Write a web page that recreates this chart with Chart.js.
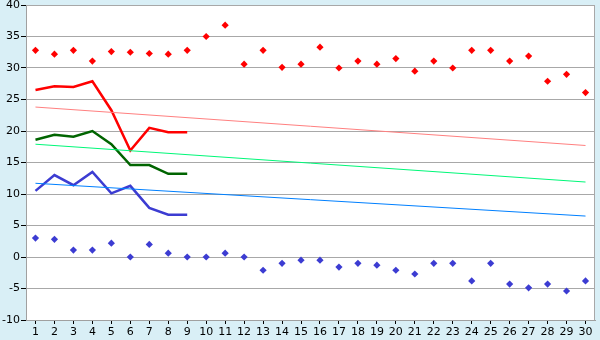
<!DOCTYPE html>
<html>
<head>
<meta charset="utf-8">
<script src="https://cdn.jsdelivr.net/npm/chart.js@4/dist/chart.umd.min.js"></script>
<style>
  html, body { margin: 0; padding: 0; background: #d9eff6; }
  #wrap { width: 600px; height: 340px; }
</style>
</head>
<body>
<div id="wrap"><canvas id="c" width="600" height="340"></canvas></div>
<script>
const categories = ["1","2","3","4","5","6","7","8","9","10","11","12","13","14","15","16","17","18","19","20","21","22","23","24","25","26","27","28","29","30"];

const highPoints = [32.8,32.2,32.8,31.1,32.6,32.5,32.3,32.2,32.8,35.0,36.8,30.6,32.8,30.1,30.6,33.3,30.0,31.1,30.6,31.5,29.5,31.1,30.0,32.8,32.8,31.1,31.9,27.9,29.0,26.1];
const lowPoints = [3.0,2.8,1.1,1.1,2.2,0.0,2.0,0.6,0.0,0.0,0.6,0.0,-2.1,-1.0,-0.5,-0.5,-1.6,-1.0,-1.3,-2.1,-2.7,-1.0,-1.0,-3.8,-1.0,-4.3,-4.9,-4.3,-5.4,-3.8];

const redLine = [26.5,27.1,27.0,27.9,23.3,16.9,20.5,19.8,19.8];
const greenLine = [18.6,19.4,19.1,20.0,17.9,14.6,14.6,13.2,13.2];
const blueLine = [10.5,13.0,11.4,13.5,10.1,11.3,7.8,6.7,6.7];

// trend line end points (first and last category)
const redTrend = [23.8, 17.7];
const greenTrend = [17.9, 11.9];
const blueTrend = [11.7, 6.5];

const yTicks = [-10,-5,0,5,10,15,20,25,30,35,40];

function endpoints(pair) {
  const arr = categories.map(() => null);
  arr[0] = pair[0];
  arr[arr.length - 1] = pair[1];
  return arr;
}

const bgPlugin = {
  id: 'bg',
  beforeDraw(chart) {
    const ctx = chart.ctx, a = chart.chartArea;
    ctx.save();
    ctx.fillStyle = '#d9eff6';
    ctx.fillRect(0, 0, chart.width, chart.height);
    ctx.fillStyle = '#ffffff';
    ctx.fillRect(a.left, a.top, a.right - a.left, a.bottom - a.top);
    ctx.restore();
  },
  afterDraw(chart) {
    const ctx = chart.ctx, a = chart.chartArea;
    ctx.save();
    ctx.strokeStyle = '#a8a8a8';
    ctx.lineWidth = 1;
    ctx.beginPath();
    ctx.moveTo(a.left, a.top + 0.5);
    ctx.lineTo(a.right - 0.5, a.top + 0.5);
    ctx.lineTo(a.right - 0.5, a.bottom);
    ctx.stroke();
    ctx.restore();
  }
};

new Chart(document.getElementById('c'), {
  type: 'line',
  data: {
    labels: categories,
    datasets: [
      { data: endpoints(redTrend), borderColor: '#ff8080', borderWidth: 1, pointRadius: 0, spanGaps: true, fill: false },
      { data: endpoints(greenTrend), borderColor: '#00f878', borderWidth: 1, pointRadius: 0, spanGaps: true, fill: false },
      { data: endpoints(blueTrend), borderColor: '#0080ff', borderWidth: 1, pointRadius: 0, spanGaps: true, fill: false },
      { data: redLine, borderColor: '#ff0000', borderWidth: 2.5, pointRadius: 0, fill: false },
      { data: greenLine, borderColor: '#006400', borderWidth: 2.5, pointRadius: 0, fill: false },
      { data: blueLine, borderColor: '#3c3cd2', borderWidth: 2.5, pointRadius: 0, fill: false },
      { data: highPoints, showLine: false, pointStyle: 'rectRot', pointRadius: 3.6, borderWidth: 0, backgroundColor: '#ff0000', borderColor: '#ff0000' },
      { data: lowPoints, showLine: false, pointStyle: 'rectRot', pointRadius: 3.6, borderWidth: 0, backgroundColor: '#3c3cd2', borderColor: '#3c3cd2' }
    ]
  },
  options: {
    responsive: false,
    animation: false,
    events: [],
    layout: { padding: { top: 5, right: 5, left: 0, bottom: 0 } },
    plugins: { legend: { display: false }, tooltip: { enabled: false } },
    scales: {
      x: {
        offset: true,
        grid: { display: true, drawOnChartArea: false, drawTicks: true, tickLength: 4, color: '#000000', offset: false },
        border: { display: true, color: '#a0a0a0' },
        ticks: { color: '#000000', font: { family: 'DejaVu Sans', size: 11 }, padding: 2, maxRotation: 0, autoSkip: false },
        afterFit(s) { s.height = 20; s.paddingLeft = 0; s.paddingRight = 0; }
      },
      y: {
        min: -10, max: 40,
        afterBuildTicks(s) { s.ticks = yTicks.map(v => ({ value: v })); },
        grid: { color: '#a8a8a8', tickLength: 5, drawTicks: true, tickColor: '#000000' },
        border: { display: true, color: '#a0a0a0' },
        ticks: { color: '#000000', font: { family: 'DejaVu Sans', size: 11 }, padding: 1 },
        afterFit(s) { s.width = 26; s.paddingTop = 0; s.paddingBottom = 0; }
      }
    }
  },
  plugins: [bgPlugin]
});
</script>
</body>
</html>
